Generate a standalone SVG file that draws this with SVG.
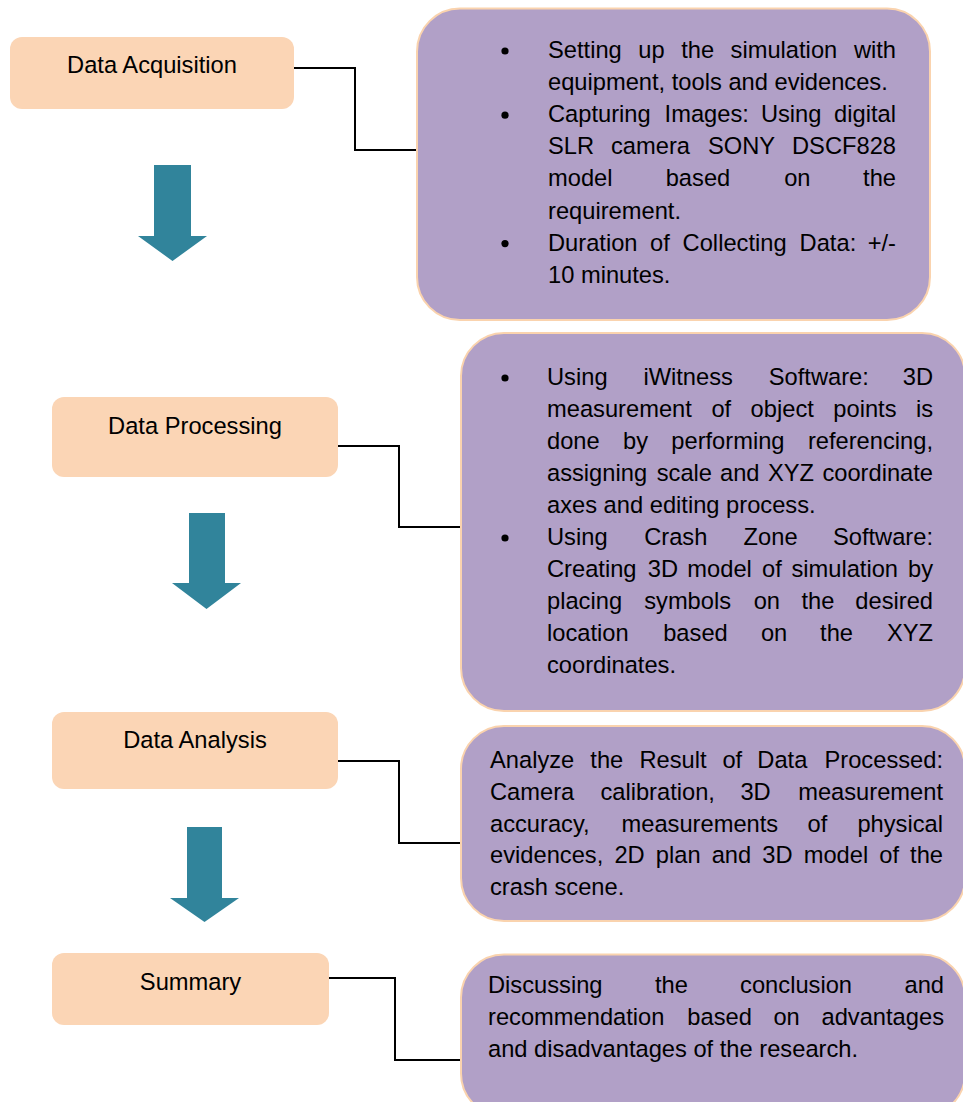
<svg xmlns="http://www.w3.org/2000/svg" width="963" height="1102" viewBox="0 0 963 1102">
<style>
.step rect{fill:#FBD5B5}
.desc rect{fill:#B1A0C7;stroke:#FAD3AE;stroke-width:2}
.t{font-family:"Liberation Sans",Arial,sans-serif;font-size:23.7px;fill:#000}
.c{text-anchor:middle}
.e{text-anchor:end}
.conn path{fill:none;stroke:#000;stroke-width:2}
.arrow{fill:#31849B}
.b{fill:#000}
</style>
<rect width="963" height="1102" fill="#fff"/>

<g id="step-acquisition" class="step">
  <rect x="10" y="37" width="284" height="72" rx="12"/>
  <text class="t c" x="152" y="72.7">Data Acquisition</text>
</g>
<g id="step-processing" class="step">
  <rect x="52" y="397" width="286" height="80" rx="12"/>
  <text class="t c" x="195" y="434">Data Processing</text>
</g>
<g id="step-analysis" class="step">
  <rect x="52" y="712" width="286" height="77" rx="12"/>
  <text class="t c" x="195" y="748">Data Analysis</text>
</g>
<g id="step-summary" class="step">
  <rect x="52" y="953" width="277" height="72" rx="12"/>
  <text class="t c" x="190.5" y="990">Summary</text>
</g>

<g id="flow-arrows">
  <polygon class="arrow" points="154,165 191,165 191,236 207,236 172.5,261 138,236 154,236"/>
  <polygon class="arrow" points="189,513 225,513 225,583 241,583 206.5,609 172,583 189,583"/>
  <polygon class="arrow" points="187,827 222,827 222,898 239,898 204.5,922 170,898 187,898"/>
</g>

<g id="connectors" class="conn">
  <path d="M294 68 H355 V150 H417"/>
  <path d="M338 446 H399 V527 H461"/>
  <path d="M338 761 H399 V843 H461"/>
  <path d="M329 978 H395 V1060 H461"/>
</g>

<g id="desc-acquisition" class="desc">
  <rect x="417" y="8.5" width="513" height="311.5" rx="43"/>
  <circle class="b" cx="505" cy="51" r="3.6"/>
  <circle class="b" cx="505" cy="115.2" r="3.6"/>
  <circle class="b" cx="505" cy="243.6" r="3.6"/>
  <text class="t" y="58"><tspan x="548">Setting</tspan><tspan x="638.3">up</tspan><tspan x="681.2">the</tspan><tspan x="730.6">simulation</tspan><tspan x="896" class="e">with</tspan></text>
  <text class="t" x="548" y="90.1">equipment, tools and evidences.</text>
  <text class="t" y="122.2"><tspan x="548">Capturing</tspan><tspan x="664.6">Images:</tspan><tspan x="760.9">Using</tspan><tspan x="896" class="e">digital</tspan></text>
  <text class="t" y="154.3"><tspan x="548">SLR</tspan><tspan x="611">camera</tspan><tspan x="708">SONY</tspan><tspan x="896" class="e">DSCF828</tspan></text>
  <text class="t" y="186.4"><tspan x="548">model</tspan><tspan x="665.7">based</tspan><tspan x="784.2">on</tspan><tspan x="896" class="e">the</tspan></text>
  <text class="t" x="548" y="218.5">requirement.</text>
  <text class="t" y="250.6"><tspan x="548">Duration</tspan><tspan x="650">of</tspan><tspan x="682.6">Collecting</tspan><tspan x="799.6">Data:</tspan><tspan x="896" class="e">+/-</tspan></text>
  <text class="t" x="548" y="282.7">10 minutes.</text>
</g>

<g id="desc-processing" class="desc">
  <rect x="461" y="333" width="504" height="378" rx="43"/>
  <circle class="b" cx="505" cy="378" r="3.6"/>
  <circle class="b" cx="505" cy="538" r="3.6"/>
  <text class="t" y="385"><tspan x="547">Using</tspan><tspan x="643.4">iWitness</tspan><tspan x="768.8">Software:</tspan><tspan x="933" class="e">3D</tspan></text>
  <text class="t" y="417"><tspan x="547">measurement</tspan><tspan x="711.4">of</tspan><tspan x="750.6">object</tspan><tspan x="833.3">points</tspan><tspan x="933" class="e">is</tspan></text>
  <text class="t" y="449"><tspan x="547">done</tspan><tspan x="623">by</tspan><tspan x="671.3">performing</tspan><tspan x="933" class="e">referencing,</tspan></text>
  <text class="t" y="481"><tspan x="547">assigning</tspan><tspan x="656.7">scale</tspan><tspan x="720">and</tspan><tspan x="768">XYZ</tspan><tspan x="933" class="e">coordinate</tspan></text>
  <text class="t" x="547" y="513">axes and editing process.</text>
  <text class="t" y="545"><tspan x="547">Using</tspan><tspan x="644.2">Crash</tspan><tspan x="743.6">Zone</tspan><tspan x="933" class="e">Software:</tspan></text>
  <text class="t" y="577"><tspan x="547">Creating</tspan><tspan x="647.8">3D</tspan><tspan x="687.3">model</tspan><tspan x="762">of</tspan><tspan x="791.4">simulation</tspan><tspan x="933" class="e">by</tspan></text>
  <text class="t" y="609"><tspan x="547">placing</tspan><tspan x="644.2">symbols</tspan><tspan x="753.7">on</tspan><tspan x="801.4">the</tspan><tspan x="933" class="e">desired</tspan></text>
  <text class="t" y="641"><tspan x="547">location</tspan><tspan x="663.2">based</tspan><tspan x="760.9">on</tspan><tspan x="820.1">the</tspan><tspan x="933" class="e">XYZ</tspan></text>
  <text class="t" x="547" y="673">coordinates.</text>
</g>

<g id="desc-analysis" class="desc">
  <rect x="461" y="726" width="504" height="195" rx="43"/>
  <text class="t" y="768.3"><tspan x="490">Analyze</tspan><tspan x="590.3">the</tspan><tspan x="639.5">Result</tspan><tspan x="722.4">of</tspan><tspan x="757.3">Data</tspan><tspan x="943" class="e">Processed:</tspan></text>
  <text class="t" y="799.9"><tspan x="490">Camera</tspan><tspan x="600.4">calibration,</tspan><tspan x="740.4">3D</tspan><tspan x="943" class="e">measurement</tspan></text>
  <text class="t" y="831.5"><tspan x="490">accuracy,</tspan><tspan x="621.5">measurements</tspan><tspan x="807.5">of</tspan><tspan x="943" class="e">physical</tspan></text>
  <text class="t" y="863.1"><tspan x="490">evidences,</tspan><tspan x="614.4">2D</tspan><tspan x="655.8">plan</tspan><tspan x="711.7">and</tspan><tspan x="762.3">3D</tspan><tspan x="803.7">model</tspan><tspan x="879.3">of</tspan><tspan x="943" class="e">the</tspan></text>
  <text class="t" x="490" y="894.7">crash scene.</text>
</g>

<g id="desc-summary" class="desc">
  <rect x="461" y="954.5" width="504" height="162" rx="43"/>
  <text class="t" y="993.3"><tspan x="488">Discussing</tspan><tspan x="655">the</tspan><tspan x="740.1">conclusion</tspan><tspan x="944" class="e">and</tspan></text>
  <text class="t" y="1025"><tspan x="488">recommendation</tspan><tspan x="687.3">based</tspan><tspan x="773.4">on</tspan><tspan x="944" class="e">advantages</tspan></text>
  <text class="t" x="488" y="1056.7">and disadvantages of the research.</text>
</g>
</svg>
